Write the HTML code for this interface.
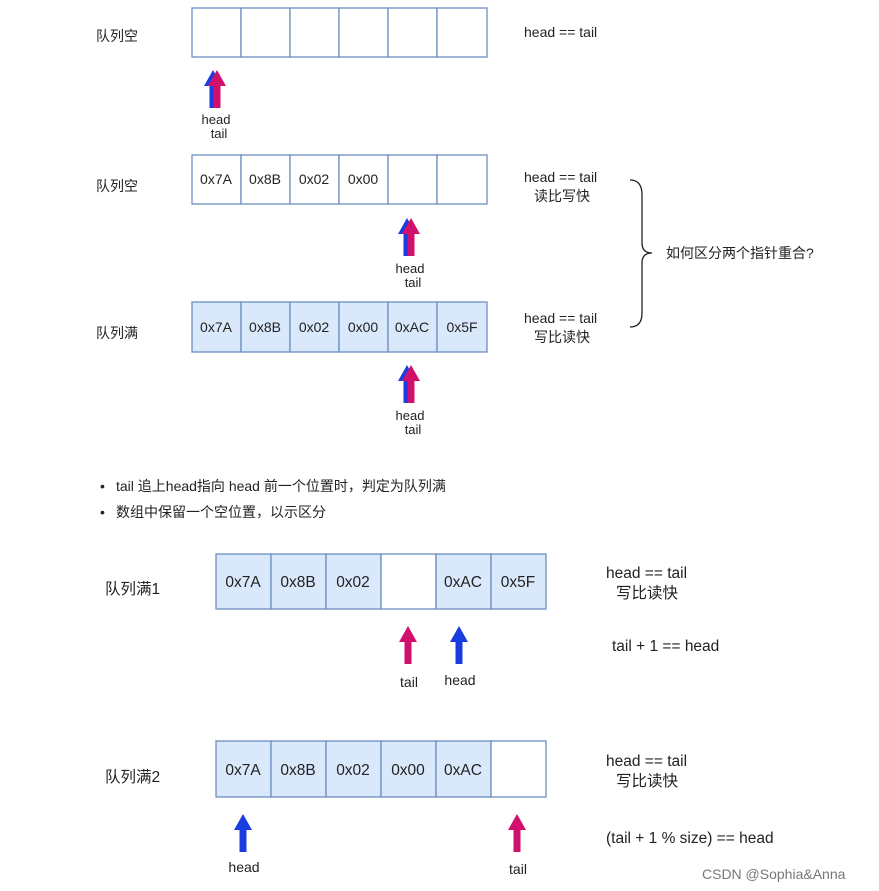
<!DOCTYPE html>
<html><head><meta charset="utf-8"><style>
html,body{margin:0;padding:0;background:#fff;width:879px;height:891px;overflow:hidden}
text{font-family:"Liberation Sans","Noto Sans CJK SC",sans-serif;fill:#222}
</style></head><body>
<svg width="879" height="891" viewBox="0 0 879 891" xmlns="http://www.w3.org/2000/svg">
<defs>
<g id="ar"><polygon points="0,-19 -9,-3 -3.5,-3 -3.5,19 3.5,19 3.5,-3 9,-3"/></g>
</defs>
<!-- array 1 -->
<g stroke="#6c8ebf" stroke-width="1.3" fill="#fff">
<rect x="192" y="8" width="49" height="49"/><rect x="241" y="8" width="49" height="49"/><rect x="290" y="8" width="49" height="49"/><rect x="339" y="8" width="49" height="49"/><rect x="388" y="8" width="49" height="49"/><rect x="437" y="8" width="50" height="49"/>
</g>
<!-- array 2 -->
<g stroke="#6c8ebf" stroke-width="1.3" fill="#fff">
<rect x="192" y="155" width="49" height="49"/><rect x="241" y="155" width="49" height="49"/><rect x="290" y="155" width="49" height="49"/><rect x="339" y="155" width="49" height="49"/><rect x="388" y="155" width="49" height="49"/><rect x="437" y="155" width="50" height="49"/>
</g>
<!-- array 3 -->
<g stroke="#6c8ebf" stroke-width="1.3" fill="#dae8fc">
<rect x="192" y="302" width="49" height="50"/><rect x="241" y="302" width="49" height="50"/><rect x="290" y="302" width="49" height="50"/><rect x="339" y="302" width="49" height="50"/><rect x="388" y="302" width="49" height="50"/><rect x="437" y="302" width="50" height="50"/>
</g>
<!-- array 4 -->
<g stroke="#6c8ebf" stroke-width="1.3" fill="#dae8fc">
<rect x="216" y="554" width="55" height="55"/><rect x="271" y="554" width="55" height="55"/><rect x="326" y="554" width="55" height="55"/><rect x="381" y="554" width="55" height="55" fill="#fff"/><rect x="436" y="554" width="55" height="55"/><rect x="491" y="554" width="55" height="55"/>
</g>
<!-- array 5 -->
<g stroke="#6c8ebf" stroke-width="1.3" fill="#dae8fc">
<rect x="216" y="741" width="55" height="56"/><rect x="271" y="741" width="55" height="56"/><rect x="326" y="741" width="55" height="56"/><rect x="381" y="741" width="55" height="56"/><rect x="436" y="741" width="55" height="56"/><rect x="491" y="741" width="55" height="56" fill="#fff"/>
</g>
<g font-size="14" text-anchor="middle">
<text x="216" y="184">0x7A</text><text x="265" y="184">0x8B</text><text x="314" y="184">0x02</text><text x="363" y="184">0x00</text>
<text x="216" y="332">0x7A</text><text x="265" y="332">0x8B</text><text x="314" y="332">0x02</text><text x="363" y="332">0x00</text><text x="412" y="332">0xAC</text><text x="462" y="332">0x5F</text>
</g>
<g font-size="15.5" text-anchor="middle">
<text x="243" y="587">0x7A</text><text x="298" y="587">0x8B</text><text x="353" y="587">0x02</text><text x="463" y="587">0xAC</text><text x="518" y="587">0x5F</text>
<text x="243" y="775">0x7A</text><text x="298" y="775">0x8B</text><text x="353" y="775">0x02</text><text x="408" y="775">0x00</text><text x="463" y="775">0xAC</text>
</g>
<!-- double arrows -->
<g><use href="#ar" x="213" y="89" fill="#1a3de0"/><use href="#ar" x="217" y="89" fill="#d0106a"/></g>
<g><use href="#ar" x="407" y="237" fill="#1a3de0"/><use href="#ar" x="411" y="237" fill="#d0106a"/></g>
<g><use href="#ar" x="407" y="384" fill="#1a3de0"/><use href="#ar" x="411" y="384" fill="#d0106a"/></g>
<use href="#ar" x="408" y="645" fill="#d0106a"/>
<use href="#ar" x="459" y="645" fill="#1a3de0"/>
<use href="#ar" x="243" y="833" fill="#1a3de0"/>
<use href="#ar" x="517" y="833" fill="#d0106a"/>
<g font-size="13" text-anchor="middle">
<text x="216" y="124">head</text><text x="219" y="138">tail</text>
<text x="410" y="273">head</text><text x="413" y="287">tail</text>
<text x="410" y="420">head</text><text x="413" y="434">tail</text>
</g>
<g font-size="14" text-anchor="middle">
<text x="409" y="687">tail</text><text x="460" y="685">head</text>
<text x="244" y="872">head</text><text x="518" y="874">tail</text>
</g>
<g font-size="14">
<text x="96" y="41">队列空</text><text x="96" y="191">队列空</text><text x="96" y="338">队列满</text>
<text x="524" y="37">head == tail</text>
<text x="524" y="182">head == tail</text><text x="534" y="201">读比写快</text>
<text x="524" y="323">head == tail</text><text x="534" y="342">写比读快</text>
<text x="666" y="258">如何区分两个指针重合?</text>
</g>
<path d="M630,180 Q642,180 642,195 L642,243 Q642,253 652,253 Q642,253 642,263 L642,313 Q642,327 630,327" fill="none" stroke="#222" stroke-width="1.3"/>
<g font-size="14">
<text x="100" y="491">•</text><text x="116" y="491">tail 追上head指向 head 前一个位置时，判定为队列满</text>
<text x="100" y="517">•</text><text x="116" y="517">数组中保留一个空位置，以示区分</text>
</g>
<g font-size="15.5">
<text x="105" y="594">队列满1</text><text x="105" y="782">队列满2</text>
<text x="606" y="578">head == tail</text><text x="616" y="598">写比读快</text>
<text x="612" y="651">tail + 1 == head</text>
<text x="606" y="766">head == tail</text><text x="616" y="786">写比读快</text>
<text x="606" y="843">(tail + 1 % size) == head</text>
</g>
<text x="702" y="879" font-size="14" fill="#888" style="fill:#777">CSDN @Sophia&amp;Anna</text>
</svg>
</body></html>
